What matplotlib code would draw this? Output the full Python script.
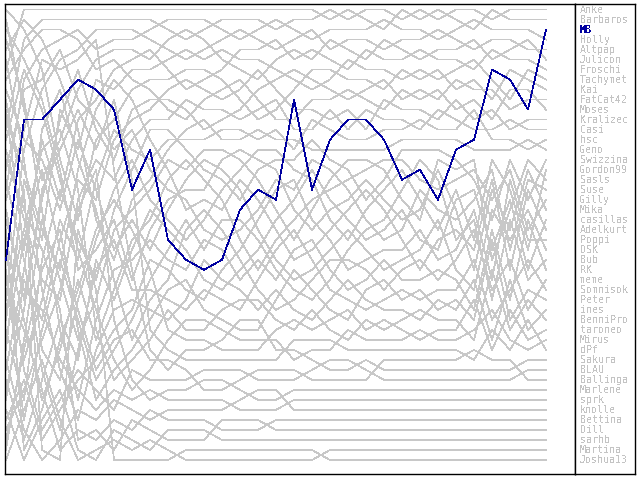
import matplotlib
matplotlib.use('Agg')
import matplotlib.pyplot as plt
import numpy as np

# players in final standing order (legend order)
players = ['Anke', 'Barbaros', 'MB', 'Holly', 'Altpap', 'Julicon', 'Froschi',
           'Tachymet', 'Kai', 'FatCat42', 'Moses', 'Kralizec', 'Casi', 'hsc',
           'Geno', 'Swizzina', 'Gordon99', 'Sasls', 'Suse', 'Gilly', 'Mika',
           'casillas', 'Adelkurt', 'Poppi', 'DSK', 'Bub', 'RK', 'meme',
           'Somnisok', 'Peter', 'ines', 'BenniPro', 'taroneo', 'Mirus', 'dPf',
           'Sakura', 'BLAU', 'Ballinga', 'Marlene', 'sprk', 'knolle', 'Bettina',
           'Dill', 'sarhb', 'Martina', 'Joshua13']
highlight = 'MB'

# rank of the highlighted player per round
mb_rank = [26, 12, 12, 10, 8, 9, 11, 19, 15, 24, 26, 27, 26, 21, 19, 20,
           10, 19, 14, 12, 12, 14, 18, 17, 20, 15, 14, 7, 8, 11, 3]

# approximate rank per round for everybody else (same order as players, MB skipped)
history = [
    [14, 5, 3, 2, 3, 2, 3, 2, 2, 3, 4, 3, 2, 2, 2, 3, 2, 2, 1, 2, 1, 1, 2, 1, 2, 1, 1, 2, 1, 1, 1],
    [8, 1, 1, 1, 1, 1, 1, 1, 1, 1, 1, 1, 1, 1, 1, 1, 1, 1, 2, 1, 2, 3, 1, 2, 1, 2, 3, 1, 2, 2, 2],
    [20, 9, 6, 5, 4, 6, 5, 4, 3, 2, 2, 2, 3, 4, 3, 2, 3, 4, 3, 3, 3, 2, 3, 3, 4, 3, 2, 3, 3, 3, 4],
    [30, 15, 10, 7, 6, 4, 4, 3, 4, 5, 6, 5, 4, 3, 4, 5, 4, 3, 5, 4, 4, 5, 4, 4, 3, 4, 5, 4, 4, 5, 5],
    [2, 12, 18, 14, 9, 7, 6, 5, 6, 4, 3, 4, 6, 7, 8, 6, 5, 6, 4, 5, 6, 4, 5, 6, 5, 5, 4, 6, 5, 4, 6],
    [12, 25, 14, 20, 12, 10, 8, 6, 5, 7, 9, 8, 7, 5, 5, 4, 6, 5, 6, 7, 5, 6, 6, 5, 6, 6, 7, 5, 6, 6, 7],
    [35, 18, 24, 11, 15, 9, 10, 8, 7, 6, 5, 6, 5, 6, 6, 7, 8, 9, 8, 6, 7, 7, 8, 7, 8, 7, 6, 7, 9, 7, 8],
    [1, 4, 8, 16, 22, 14, 12, 10, 9, 8, 7, 7, 8, 10, 12, 11, 9, 7, 7, 8, 8, 9, 7, 8, 7, 9, 8, 9, 7, 8, 9],
    [22, 30, 20, 12, 8, 13, 16, 12, 11, 10, 11, 13, 12, 11, 9, 8, 7, 8, 9, 10, 9, 8, 10, 9, 10, 8, 9, 8, 10, 10, 10],
    [9, 6, 4, 3, 5, 8, 7, 9, 10, 11, 12, 10, 9, 8, 10, 12, 11, 10, 10, 9, 10, 11, 9, 10, 9, 11, 10, 11, 8, 9, 11],
    [40, 28, 32, 24, 18, 20, 14, 13, 12, 9, 8, 9, 10, 9, 7, 9, 10, 11, 12, 11, 12, 10, 11, 11, 12, 10, 12, 10, 12, 11, 12],
    [16, 22, 28, 30, 20, 16, 18, 15, 13, 12, 10, 11, 11, 12, 11, 10, 12, 13, 11, 12, 11, 12, 12, 13, 11, 12, 13, 12, 11, 12, 13],
    [28, 36, 30, 22, 26, 18, 13, 16, 16, 15, 14, 14, 13, 13, 14, 13, 14, 12, 13, 14, 13, 13, 13, 12, 13, 13, 11, 13, 13, 14, 14],
    [6, 2, 5, 9, 13, 22, 26, 20, 18, 16, 13, 12, 14, 15, 13, 14, 13, 15, 14, 15, 14, 14, 14, 14, 14, 14, 14, 15, 14, 13, 15],
    [33, 40, 26, 19, 24, 28, 21, 18, 14, 13, 15, 18, 20, 22, 19, 17, 15, 14, 16, 18, 21, 19, 17, 16, 15, 17, 19, 24, 17, 22, 16],
    [11, 20, 35, 38, 30, 24, 19, 17, 20, 23, 26, 24, 21, 18, 16, 15, 18, 20, 23, 25, 22, 20, 19, 21, 24, 20, 26, 16, 21, 27, 17],
    [45, 34, 22, 28, 34, 30, 23, 21, 19, 17, 18, 16, 15, 17, 20, 23, 25, 22, 19, 17, 16, 18, 21, 23, 19, 18, 16, 28, 23, 16, 18],
    [18, 10, 9, 6, 10, 12, 15, 14, 17, 20, 22, 25, 27, 25, 23, 21, 20, 18, 17, 20, 23, 25, 24, 20, 22, 23, 21, 17, 27, 19, 19],
    [25, 32, 40, 35, 28, 34, 29, 24, 22, 19, 17, 19, 22, 26, 28, 26, 23, 21, 20, 19, 18, 17, 18, 19, 21, 19, 18, 22, 18, 25, 20],
    [3, 7, 11, 17, 27, 25, 22, 27, 23, 21, 20, 21, 18, 16, 18, 20, 22, 24, 22, 21, 19, 21, 23, 22, 20, 22, 29, 20, 25, 18, 21],
    [38, 44, 38, 32, 36, 26, 30, 25, 21, 24, 27, 29, 31, 29, 26, 24, 21, 19, 21, 23, 25, 24, 22, 24, 26, 21, 20, 27, 22, 29, 22],
    [13, 17, 23, 27, 17, 11, 9, 11, 14, 18, 23, 22, 24, 20, 21, 25, 27, 26, 24, 22, 20, 22, 25, 27, 25, 24, 27, 19, 29, 21, 23],
    [42, 38, 44, 41, 38, 36, 33, 30, 26, 28, 30, 31, 29, 27, 24, 22, 19, 23, 25, 28, 27, 26, 26, 23, 27, 26, 22, 30, 20, 26, 24],
    [10, 14, 16, 21, 14, 19, 25, 22, 25, 22, 19, 17, 19, 21, 24, 27, 29, 28, 26, 24, 26, 28, 27, 25, 23, 28, 31, 23, 26, 23, 25],
    [27, 42, 33, 26, 32, 38, 35, 31, 28, 26, 24, 27, 25, 23, 25, 28, 30, 31, 29, 26, 24, 23, 20, 18, 20, 25, 23, 32, 24, 30, 26],
    [4, 11, 21, 33, 40, 32, 27, 26, 24, 27, 28, 26, 28, 30, 27, 29, 26, 25, 28, 30, 29, 27, 29, 29, 28, 29, 33, 25, 31, 24, 27],
    [37, 27, 13, 10, 16, 21, 28, 33, 30, 29, 25, 23, 26, 28, 30, 32, 31, 29, 27, 27, 28, 30, 28, 26, 29, 27, 25, 31, 28, 33, 28],
    [19, 26, 37, 43, 35, 27, 24, 28, 29, 31, 33, 30, 32, 33, 29, 26, 24, 27, 30, 31, 32, 31, 30, 31, 30, 30, 28, 34, 30, 28, 29],
    [44, 35, 27, 23, 33, 40, 37, 35, 32, 30, 29, 32, 34, 35, 34, 31, 28, 30, 32, 33, 30, 29, 31, 30, 32, 31, 34, 26, 33, 31, 30],
    [7, 16, 29, 37, 42, 35, 31, 29, 31, 33, 32, 28, 30, 31, 32, 30, 32, 33, 31, 29, 31, 32, 32, 33, 31, 32, 30, 35, 29, 34, 31],
    [31, 23, 15, 13, 19, 33, 38, 36, 34, 32, 34, 35, 33, 32, 31, 33, 34, 32, 34, 35, 33, 34, 33, 32, 33, 33, 36, 29, 34, 32, 32],
    [24, 45, 41, 34, 29, 23, 20, 23, 27, 34, 35, 35, 36, 36, 35, 34, 33, 33, 33, 32, 33, 33, 34, 35, 34, 34, 32, 36, 32, 35, 33],
    [15, 8, 12, 18, 25, 31, 36, 39, 37, 35, 33, 33, 34, 35, 34, 34, 36, 35, 35, 34, 35, 35, 35, 34, 35, 35, 35, 33, 35, 36, 34],
    [39, 31, 19, 15, 11, 15, 11, 19, 33, 36, 37, 37, 37, 37, 36, 35, 34, 34, 34, 36, 36, 36, 36, 36, 36, 36, 37, 34, 36, 33, 35],
    [21, 13, 7, 8, 7, 5, 17, 26, 35, 37, 36, 36, 34, 33, 33, 34, 35, 36, 37, 37, 37, 37, 37, 37, 37, 37, 37, 37, 37, 37, 36],
    [26, 37, 43, 40, 37, 39, 41, 37, 38, 38, 38, 37, 37, 38, 38, 38, 37, 36, 36, 36, 37, 38, 38, 38, 38, 38, 38, 38, 38, 37, 37],
    [34, 24, 17, 25, 31, 37, 34, 32, 36, 36, 37, 39, 39, 39, 37, 36, 36, 37, 38, 38, 38, 36, 36, 36, 36, 36, 36, 36, 36, 38, 38],
    [43, 39, 34, 29, 21, 17, 32, 38, 40, 39, 39, 38, 38, 40, 40, 40, 39, 39, 39, 39, 39, 39, 39, 39, 39, 39, 39, 39, 39, 39, 39],
    [23, 29, 31, 36, 39, 41, 39, 40, 39, 40, 40, 40, 40, 41, 41, 41, 40, 40, 40, 40, 40, 40, 40, 40, 40, 40, 40, 40, 40, 40, 40],
    [36, 43, 46, 44, 41, 42, 40, 41, 42, 41, 41, 41, 41, 40, 39, 39, 41, 41, 41, 41, 41, 41, 41, 41, 41, 41, 41, 41, 41, 41, 41],
    [29, 33, 39, 45, 43, 44, 42, 43, 41, 42, 42, 42, 43, 43, 43, 42, 42, 42, 42, 42, 42, 42, 42, 42, 42, 42, 42, 42, 42, 42, 42],
    [17, 21, 25, 31, 44, 43, 45, 42, 43, 44, 44, 44, 42, 42, 42, 43, 43, 43, 43, 43, 43, 43, 43, 43, 43, 43, 43, 43, 43, 43, 43],
    [41, 46, 42, 39, 45, 46, 43, 44, 45, 43, 43, 43, 44, 44, 44, 44, 44, 44, 44, 44, 44, 44, 44, 44, 44, 44, 44, 44, 44, 44, 44],
    [46, 41, 36, 42, 46, 45, 44, 45, 44, 45, 46, 46, 46, 46, 46, 46, 46, 46, 45, 45, 45, 45, 45, 45, 45, 45, 45, 45, 45, 45, 45],
    [32, 19, 45, 46, 23, 29, 46, 46, 46, 46, 45, 45, 45, 45, 45, 45, 45, 45, 46, 46, 46, 46, 46, 46, 46, 46, 46, 46, 46, 46, 46],
]

others = [p for p in players if p != highlight]
n_rounds = len(mb_rank)
n = len(players)

# turn the rough values into a proper ranking for every round
ranks = {p: [0] * n_rounds for p in players}
for t in range(n_rounds):
    order = sorted(range(len(others)), key=lambda i: (history[i][t], i))
    free = [r for r in range(1, n + 1) if r != mb_rank[t]]
    for r, i in zip(free, order):
        ranks[others[i]][t] = r
    ranks[highlight][t] = mb_rank[t]

plt.rcParams['text.antialiased'] = False
fig = plt.figure(figsize=(6.4, 4.8), dpi=100)
ax = fig.add_axes([5 / 640, 1 - 474 / 480, 570 / 640, 470 / 480])
lg = fig.add_axes([575 / 640, 1 - 474 / 480, 60 / 640, 470 / 480])

rounds = np.arange(n_rounds)
for p in others:
    ax.plot(rounds, ranks[p], color='#c8c8c8', lw=0.5, antialiased=False)
ax.plot(rounds, ranks[highlight], color='#0000a0', lw=0.5, antialiased=False, zorder=5)

ax.set_xlim(-1 / 18, (575 - 6) / 18)
ax.set_ylim(47.4, 0.45)
ax.set_xticks([])
ax.set_yticks([])

lg.set_xlim(0, 60)
lg.set_ylim(47.4, 0.45)
lg.set_xticks([])
lg.set_yticks([])
for i, p in enumerate(players):
    if p == highlight:
        lg.text(5, i + 1, p, color='#0000a0', fontsize=7.2, family='DejaVu Sans Mono',
                fontweight='bold', va='center', ha='left')
    else:
        lg.text(5, i + 1, p, color='#c4c4c4', fontsize=7.2, family='DejaVu Sans Mono',
                va='center', ha='left')

for a in (ax, lg):
    for s in a.spines.values():
        s.set_linewidth(1)
        s.set_color('black')

fig.savefig('out.png', dpi=100)
